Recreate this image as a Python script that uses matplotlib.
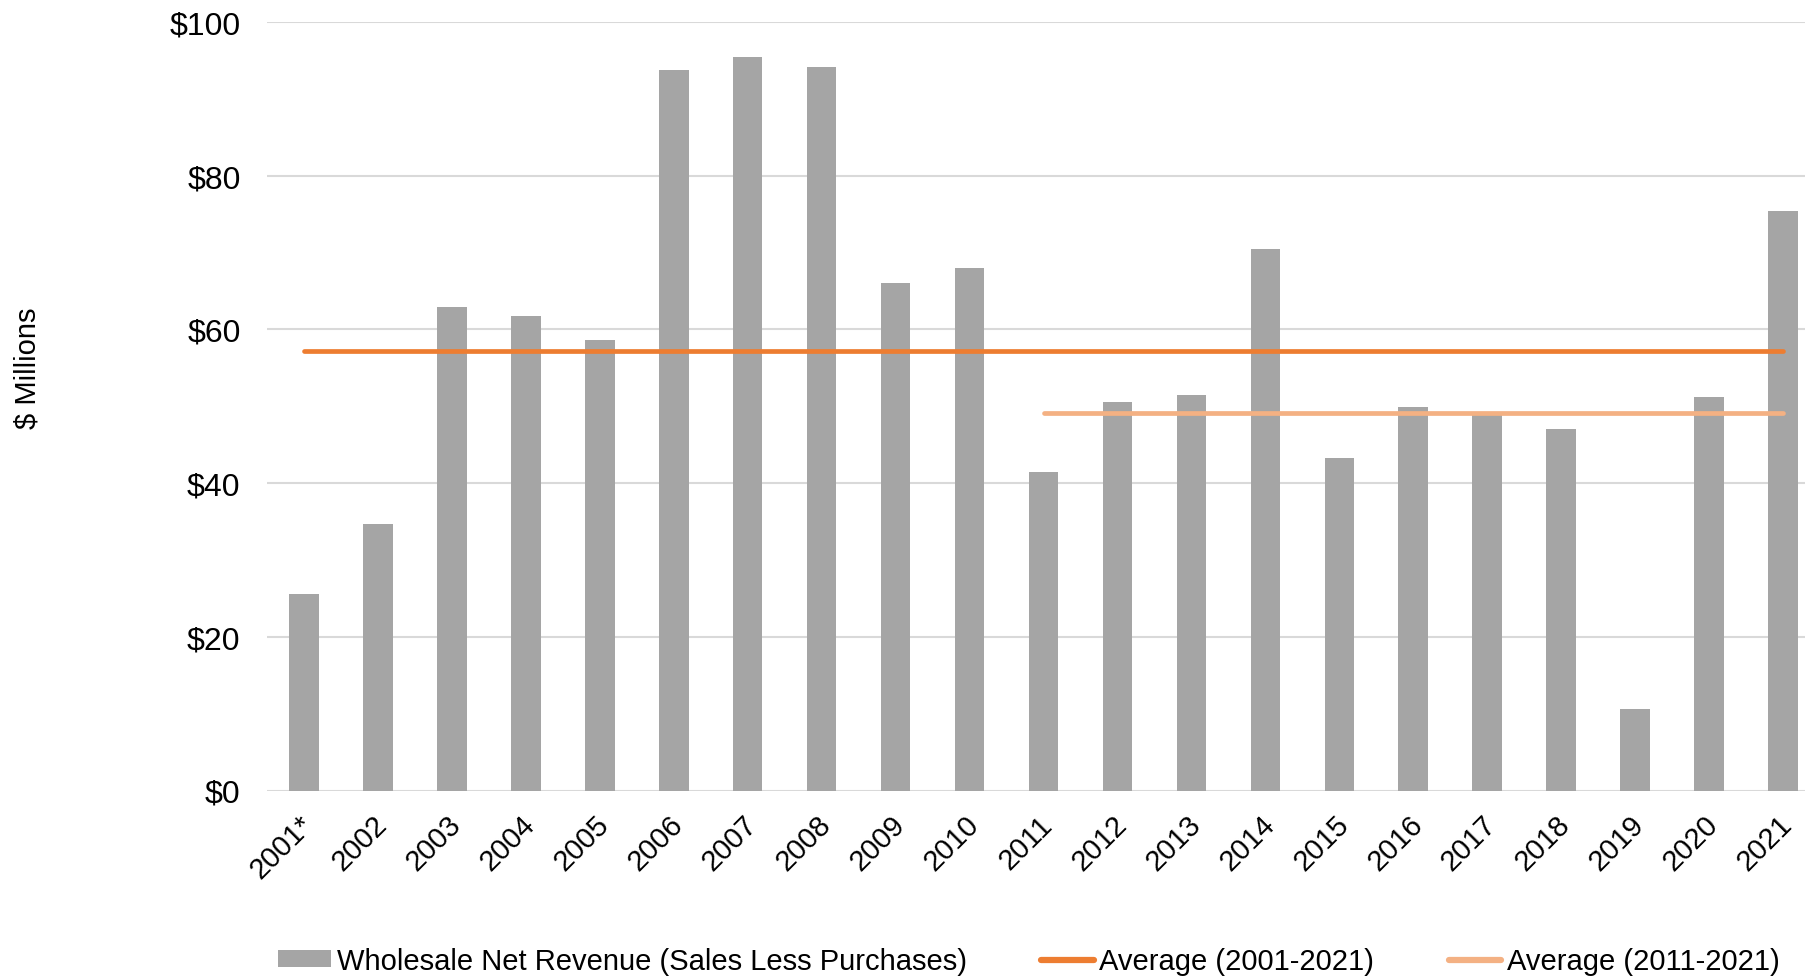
import matplotlib
matplotlib.use("Agg")
import matplotlib.pyplot as plt
from matplotlib.lines import Line2D
from matplotlib.patches import Patch
from matplotlib.transforms import ScaledTranslation

plt.rcParams['font.family'] = ['Liberation Sans', 'DejaVu Sans']

years = ["2001*", "2002", "2003", "2004", "2005", "2006", "2007", "2008", "2009", "2010",
         "2011", "2012", "2013", "2014", "2015", "2016", "2017", "2018", "2019", "2020", "2021"]
revenue = [25.6, 34.7, 62.9, 61.7, 58.6, 93.8, 95.4, 94.1, 66.1, 68.0,
           41.4, 50.6, 51.4, 70.5, 43.3, 49.9, 49.0, 47.1, 10.6, 51.2, 75.4]
avg_all = 57.2     # Average (2001-2021)
avg_recent = 49.1  # Average (2011-2021)
yticks = [0, 20, 40, 60, 80, 100]
ytick_labels = ["$0", "$20", "$40", "$60", "$80", "$100"]

BAR = "#a5a5a5"
ORANGE = "#ed7d31"
LIGHT = "#f4b183"
GRID = "#d9d9d9"

W, H = 1805, 979
fig = plt.figure(figsize=(W / 100, H / 100), dpi=100)
left, right = 267 / W, 1820 / W
top, bottom = 1 - 23 / H, 1 - 791.5 / H
ax = fig.add_axes([left, bottom, right - left, top - bottom])

x = list(range(len(years)))
ax.bar(x, revenue, width=0.4, color=BAR, zorder=2)
ax.plot([x[0], x[-1]], [avg_all, avg_all], color=ORANGE, lw=3.4,
        solid_capstyle='round', zorder=3)
i11 = years.index("2011")
ax.plot([x[i11], x[-1]], [avg_recent, avg_recent], color=LIGHT, lw=3.4,
        solid_capstyle='round', zorder=3)

ax.set_xlim(-0.5, len(years) - 0.5)
ax.set_ylim(0, 100)
ax.set_yticks(yticks)
ax.set_yticklabels(ytick_labels, fontsize=23)
ax.set_xticks(x)
ax.set_xticklabels(years, fontsize=21, rotation=45, ha='right', va='top',
                   rotation_mode='anchor')
ax.tick_params(axis='y', length=0, pad=19)
ax.tick_params(axis='x', length=0, pad=14)
off = ScaledTranslation(-5 / 100, 0, fig.dpi_scale_trans)
for lab in ax.get_xticklabels():
    lab.set_transform(lab.get_transform() + off)
ax.grid(axis='y', color=GRID, lw=1.5, zorder=0)
ax.set_axisbelow(True)
for s in ax.spines.values():
    s.set_visible(False)

fig.text(27 / W, 1 - 368 / H, "$ Millions", rotation=90, fontsize=21,
         ha='center', va='center')

handles = [Patch(facecolor=BAR, edgecolor='none'),
           Line2D([0], [0], color=ORANGE, lw=4.5, solid_capstyle='round'),
           Line2D([0], [0], color=LIGHT, lw=4.5, solid_capstyle='round')]
labels = ["Wholesale Net Revenue (Sales Less Purchases)",
          "Average (2001-2021)", "Average (2011-2021)"]
fig.legend(handles, labels, loc='center', bbox_to_anchor=(1029 / W, 1 - 962 / H),
           ncol=3, frameon=False, fontsize=21, handlelength=1.8, handleheight=0.52,
           handletextpad=0.2, columnspacing=2.55, borderaxespad=0, borderpad=0)

fig.savefig("out.png", dpi=100)
